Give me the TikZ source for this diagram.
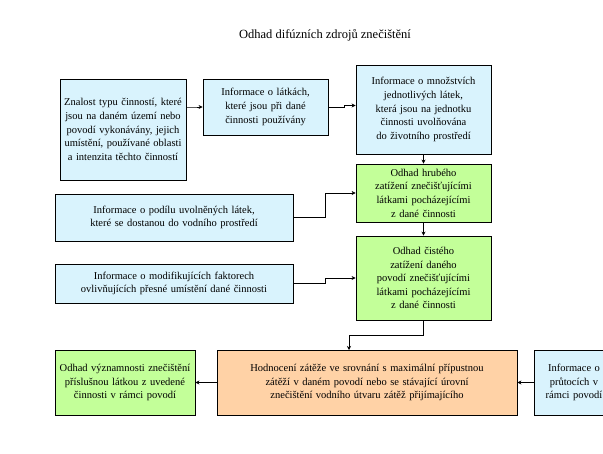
\documentclass[tikz,border=0pt]{standalone}
\usepackage{fontspec}
\setmainfont{Liberation Serif}
\usetikzlibrary{arrows.meta}
\hyphenpenalty=10000
\exhyphenpenalty=10000
\newcommand\boxfont{\fontsize{10.5}{13.6}\selectfont}
\tikzset{
  box/.style={draw, thick, align=center, inner sep=1pt, font=\boxfont},
  info/.style={box, fill=cyan!15},
  odhad/.style={box, fill=green!45!lime!40},
  hodn/.style={box, fill=orange!35},
  link/.style={thick, -{Stealth[length=4pt,width=4pt]}}
}
\begin{document}
\begin{tikzpicture}[x=1pt,y=-1pt]
 \clip (0,0) rectangle (603,453);

 \node at (325,35) {\fontsize{12.5}{14}\selectfont Odhad difúzních zdrojů znečištění};

 \node (a) [info, minimum width=126, minimum height=101, text width=120] at (123,129.5)
   {Znalost typu činností, které jsou na daném území nebo povodí vykonávány, jejich umístění, používané oblasti a intenzita těchto činností};
 \node (b) [info, minimum width=125, minimum height=56, text width=122] at (265.5,107)
   {Informace o látkách, které jsou při dané činnosti používány};
 \node (c) [info, minimum width=135, minimum height=89, text width=124] at (423.5,109.5)
   {Informace o množstvích jednotlivých látek, která jsou na jednotku činnosti uvolňována do životního prostředí};
 \node (d) [odhad, minimum width=135, minimum height=58, text width=120] at (423.5,193)
   {Odhad hrubého zatížení znečišťujícími látkami pocházejícími z dané činnosti};
 \node (e) [info, minimum width=238, minimum height=47, text width=232] at (174,217.5)
   {Informace o podílu uvolněných látek, které se dostanou do vodního prostředí};
 \node (f) [info, minimum width=238, minimum height=39, text width=232] at (174,283.5)
   {Informace o modifikujících faktorech ovlivňujících přesné umístění dané činnosti};
 \node (g) [odhad, minimum width=135, minimum height=84, text width=120] at (423.5,278)
   {Odhad čistého zatížení daného povodí znečišťujícími látkami pocházejícími z dané činnosti};
 \node (h) [odhad, minimum width=140, minimum height=65, text width=134] at (125,382.5)
   {Odhad významnosti znečištění příslušnou látkou z uvedené činnosti v rámci povodí};
 \node (i) [hodn, minimum width=300, minimum height=65, text width=294] at (367,382.5)
   {Hodnocení zátěže ve srovnání s maximální přípustnou zátěží v daném povodí nebo se stávající úrovní znečištění vodního útvaru zátěž přijímajícího};
 \node (j) [info, minimum width=80, minimum height=65, text width=72] at (574,382.5)
   {Informace o průtocích v rámci povodí};

 \draw [link] ([yshift=22.5]a.east) -- ++(8,0) |- (b.west);
 \draw [link] (b.east) -- ++(16,0) |- ([yshift=4]c.west);
 \draw [link] (c.south) -- (d.north);
 \draw [link] (d.south) -- (g.north);
 \draw [link, thin] (e.east) -- ++(32,0) |- (d.west);
 \draw [link] (f.east) -- ++(32,0) |- (g.west);
 \draw [link] (g.south) -- ++(0,15) -| (349,350);
 \draw [link] (i.west) -- (h.east);
 \draw [link] (j.west) -- (i.east);
\end{tikzpicture}
\end{document}
